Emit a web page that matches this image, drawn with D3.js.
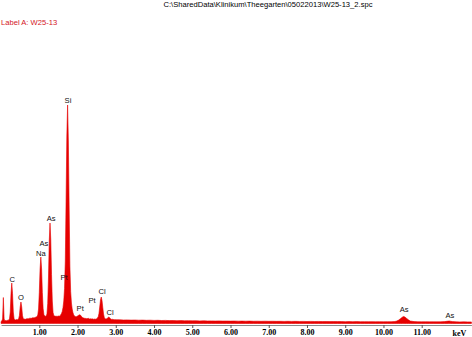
<!DOCTYPE html>
<html>
<head>
<meta charset="utf-8">
<script src="https://cdn.jsdelivr.net/npm/d3@7"></script>
<style>
html,body{margin:0;padding:0;background:#fff;}
svg{display:block;}
</style>
</head>
<body>
<svg id="chart" width="472" height="337"></svg>
<script>
// ---- data ----
const titleText = "C:\\SharedData\\Klinikum\\Theegarten\\05022013\\W25-13_2.spc";
const labelText = "Label A: W25-13";
const lowStep = 0.02; // keV per channel for 0 - 3 keV
const lowCounts = [
 40,50,90,520,90,55,60,55,65,60,
 70,90,230,600,810,600,230,100,75,70,
 80,75,80,95,160,330,430,330,160,100,
 85,90,85,95,90,100,95,105,100,110,
 105,115,110,120,115,125,130,140,170,290,
 620,1090,1330,1090,620,300,180,150,145,150,
 190,400,910,1640,2010,1680,980,450,220,160,
 150,145,150,140,145,150,145,155,170,200,
 240,320,450,700,1250,2450,3750,4370,3650,2350,
 1150,640,410,290,220,170,150,140,135,140,
 150,160,170,175,165,145,125,115,110,105,
 100,105,95,100,105,95,90,95,90,95,
 90,85,90,85,90,95,110,130,200,330,
 470,530,460,320,190,120,95,90,95,105,
 120,130,115,95,85,80,85,80,75,80,
 75
];
const highEnergies = [3.1,3.2,3.3,3.4,3.5,3.6,3.7,3.8,3.9,4.0,4.1,4.2,4.3,4.4,4.5,4.6,4.7,4.8,4.9,5.0,
 5.1,5.2,5.3,5.4,5.5,5.6,5.7,5.8,5.9,6.0,6.1,6.2,6.3,6.4,6.5,6.6,6.7,6.8,6.9,7.0,
 7.1,7.2,7.3,7.4,7.5,7.6,7.7,7.8,7.9,8.0,8.1,8.2,8.3,8.4,8.5,8.6,8.7,8.8,8.9,9.0,
 9.1,9.2,9.3,9.4,9.5,9.6,9.7,9.8,9.9,10.0,10.1,10.2,10.3,10.35,10.4,10.45,10.5,10.53,10.56,10.6,
 10.65,10.7,10.8,10.9,11.0,11.1,11.2,11.3,11.4,11.5,11.6,11.7,11.72,11.75,11.8,11.9,12.0,12.1,12.2,12.3];
const highCounts = [75,70,72,68,70,66,68,64,66,62,64,60,62,58,60,57,58,55,57,54,
 55,52,54,51,52,50,52,49,50,48,50,47,48,46,48,45,46,44,46,44,
 45,43,44,42,44,42,43,41,42,40,42,40,41,39,40,38,40,38,39,37,
 38,37,38,36,37,36,37,35,36,35,36,36,40,50,70,100,130,140,130,105,
 75,50,38,35,34,35,33,34,33,34,38,48,50,46,38,33,32,33,32,31];
const tickValues = [1,2,3,4,5,6,7,8,9,10,11];
const peakLabels = ["Si","As","As","Na","C","O","Pt","Pt","Pt","Cl","Cl","As","As"];
const peakLabelEnergy = [1.75,1.31,1.12,1.04,0.29,0.52,1.65,2.07,2.38,2.64,2.85,10.54,11.74];
const peakLabelCount = [4470,2110,1610,1410,890,530,930,310,470,650,230,290,170];

// ---- build ----
const spectrum = lowCounts.map((c,i)=>({e:i*lowStep, c:c}))
  .concat(highEnergies.map((e,i)=>({e:e, c:highCounts[i]})));

const svg = d3.select("#chart");
const x = d3.scaleLinear().domain([0,12.3]).range([1.06, 1.06+38.24*12.3]);
const y = d3.scaleLinear().domain([0,6470]).range([323.5,0]);

svg.append("path")
  .datum(spectrum)
  .attr("fill","#e60000")
  .attr("stroke","#e60000")
  .attr("stroke-width",0.6)
  .attr("d", d3.area().x(d=>x(d.e)).y0(y(0)).y1(d=>y(d.c)));

const axis = svg.append("g")
  .attr("transform","translate(0,325)")
  .call(d3.axisBottom(x).tickValues(tickValues).tickFormat(d3.format(".2f")).tickSize(3).tickPadding(1).tickSizeOuter(0));
axis.select(".domain").attr("stroke","#8a8a8a").attr("stroke-width",1.2);
axis.selectAll(".tick line").attr("stroke","#555");
axis.selectAll("text")
  .attr("font-family","'Liberation Serif', serif")
  .attr("font-weight","bold")
  .attr("font-size","8px")
  .attr("fill","#000");

svg.append("text")
  .attr("x", x(12.3)-12).attr("y", 336)
  .attr("text-anchor","middle")
  .attr("font-family","'Liberation Serif', serif")
  .attr("font-weight","bold")
  .attr("font-size","8px")
  .text("keV");

svg.append("text")
  .attr("x", 268).attr("y", 7)
  .attr("text-anchor","middle")
  .attr("font-family","'Liberation Sans', Arial, sans-serif")
  .attr("font-size","7.6px")
  .attr("fill","#000")
  .text(titleText);

svg.append("text")
  .attr("x", 1).attr("y", 25)
  .attr("font-family","'Liberation Sans', Arial, sans-serif")
  .attr("font-size","7.6px")
  .attr("fill","#d4141e")
  .text(labelText);

svg.append("g").selectAll("text")
  .data(peakLabels)
  .join("text")
  .attr("x",(d,i)=>x(peakLabelEnergy[i]))
  .attr("y",(d,i)=>y(peakLabelCount[i]))
  .attr("dy","0.35em")
  .attr("text-anchor","middle")
  .attr("font-family","'Liberation Sans', Arial, sans-serif")
  .attr("font-size","7.6px")
  .attr("fill","#111")
  .text(d=>d);
</script>
</body>
</html>
